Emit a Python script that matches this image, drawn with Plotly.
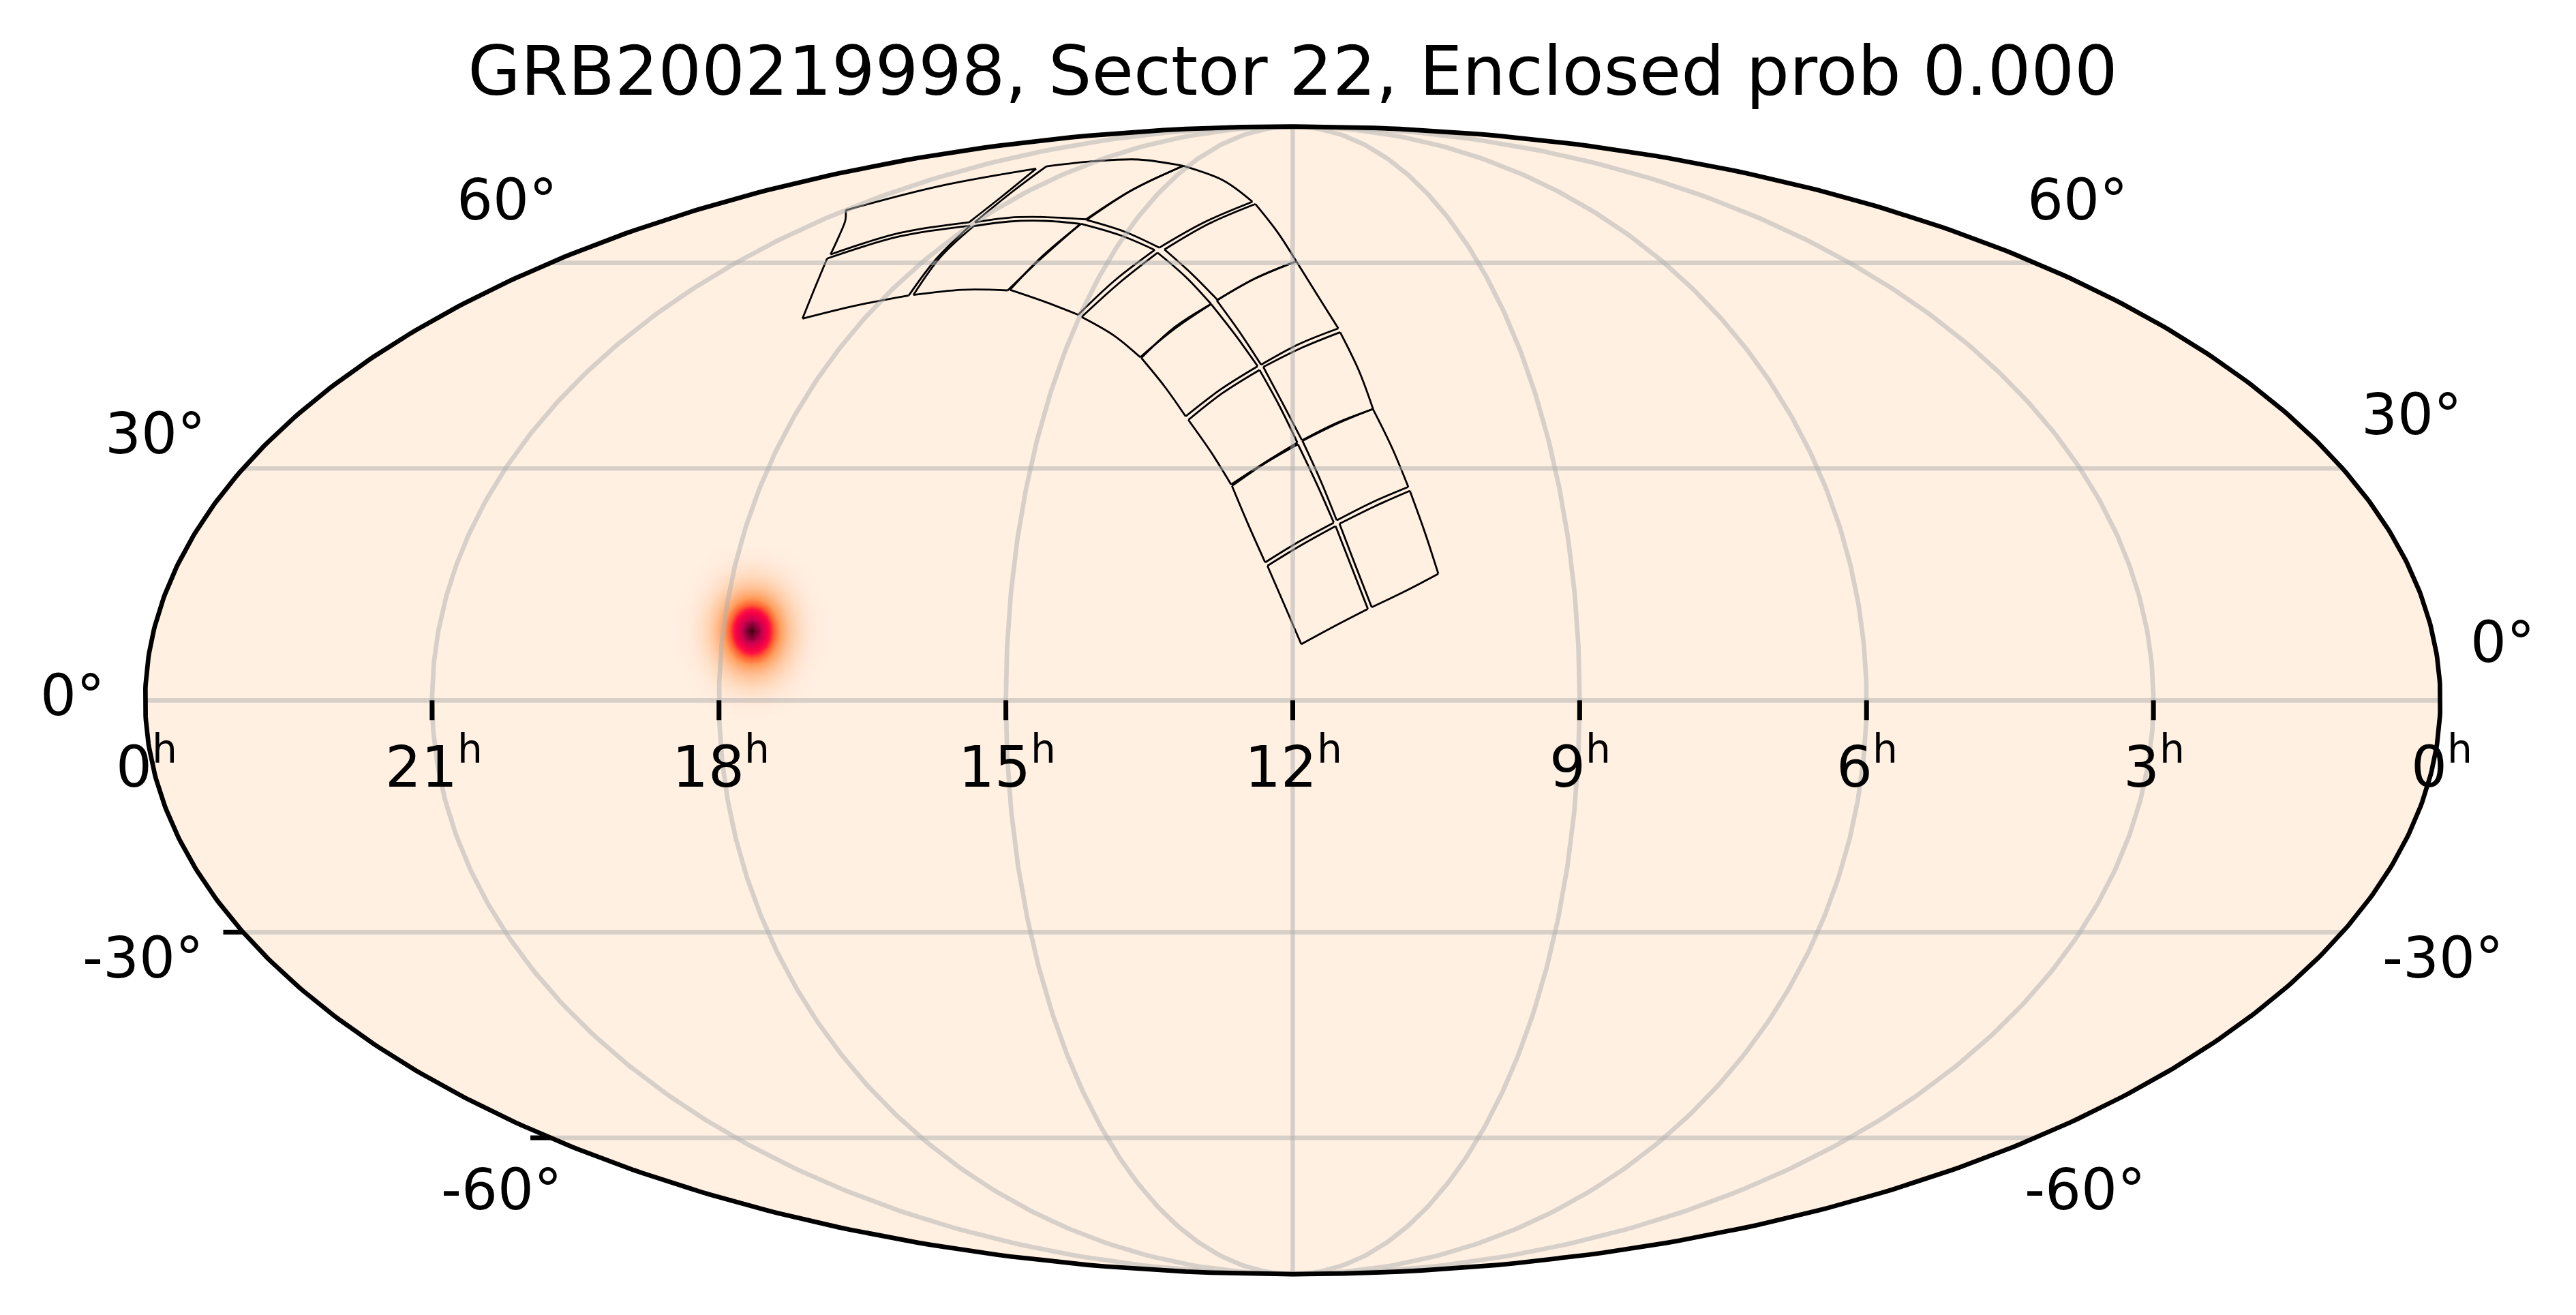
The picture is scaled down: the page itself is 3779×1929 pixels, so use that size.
import numpy as np
import plotly.graph_objects as go

# --- Values ---

title_text = "GRB200219998, Sector 22, Enclosed prob 0.000"

ra_grid_hours = [3, 6, 9, 12, 15, 18, 21]
dec_grid_deg = [-60, -30, 0, 30, 60]
dec_tick_deg = [-30, -60]

ra_labels = ["0", "21", "18", "15", "12", "9", "6", "3", "0"]
dec_labels = ["60°", "30°", "0°", "-30°", "-60°", "60°", "30°", "0°", "-30°", "-60°"]

# CCD outlines of the sector footprint (RA and Dec in degrees, one list per CCD)
ccd_ra = [
    [178.66, 173.34, 168.07, 170.46, 172.95, 178.69, 184.09, 181.36],
    [167.45, 161.94, 156.60, 158.36, 160.27, 166.34, 172.30, 169.90],
    [184.46, 178.94, 173.23, 175.94, 179.10, 184.87, 190.28, 187.39],
    [172.74, 166.69, 160.48, 162.70, 165.42, 171.84, 178.30, 175.28],
    [190.44, 185.07, 179.19, 182.47, 186.38, 193.06, 198.77, 194.21],
    [178.38, 172.03, 165.38, 167.35, 170.31, 178.40, 185.67, 181.85],
    [199.34, 193.54, 186.77, 191.77, 197.71, 204.37, 209.61, 204.04],
    [186.13, 178.84, 170.62, 174.22, 179.14, 188.65, 196.62, 190.91],
    [209.85, 204.49, 197.71, 204.77, 213.87, 219.84, 224.51, 216.48],
    [196.49, 188.65, 179.14, 184.31, 191.67, 203.64, 212.52, 203.68],
    [225.45, 221.00, 214.94, 226.23, 239.59, 242.00, 243.49, 234.55],
    [214.06, 205.09, 192.78, 205.59, 227.14, 235.02, 239.12, 225.65],
    [243.90, 241.82, 239.78, 250.68, 260.78, 268.90, 267.03, 264.06, 254.20],
    [285.57, 271.42, 252.43, 227.14, 235.02, 239.45, 252.70, 262.33, 270.19, 275.20],
    [287.08, 305.02, 314.85, 308.04, 300.57, 295.18, 286.24, 271.79, 275.56],
    [270.04, 284.75, 294.45, 287.69, 283.00, 274.50, 264.99, 267.51],
]
ccd_dec = [
    [7.14, 9.46, 11.64, 16.91, 22.37, 19.85, 17.20, 12.22],
    [11.87, 13.97, 16.17, 21.63, 27.02, 24.97, 22.67, 17.26],
    [17.64, 20.36, 22.82, 27.93, 33.28, 30.67, 27.68, 22.67],
    [23.12, 25.51, 27.54, 32.88, 38.13, 36.17, 33.74, 28.38],
    [27.86, 30.67, 33.50, 38.60, 43.65, 40.35, 36.61, 32.20],
    [33.81, 36.24, 38.13, 43.59, 49.17, 46.81, 44.08, 38.92],
    [37.11, 40.83, 44.18, 48.83, 53.44, 49.92, 45.39, 41.31],
    [44.40, 47.38, 49.74, 54.43, 60.25, 57.48, 54.00, 49.23],
    [45.49, 49.58, 53.44, 57.66, 61.68, 56.57, 51.46, 48.73],
    [54.08, 57.48, 60.25, 65.35, 70.32, 66.68, 62.22, 58.21],
    [51.80, 57.11, 62.14, 64.67, 66.68, 61.19, 55.67, 53.90],
    [62.53, 66.96, 70.75, 74.95, 78.14, 73.10, 67.37, 65.27],
    [55.57, 60.82, 66.68, 67.21, 67.09, 66.27, 61.00, 54.85, 55.67],
    [78.03, 79.17, 79.60, 78.14, 73.10, 67.49, 67.91, 67.79, 66.96, 72.87],
    [77.53, 73.79, 69.17, 67.30, 64.28, 61.39, 65.07, 66.96, 71.97],
    [66.35, 64.47, 60.71, 55.86, 51.22, 53.20, 54.79, 60.63],
]
# which points of each CCD list are its four corners, the others lie along the edges
ccd_corners = [[0, 2, 4, 6]] * 12 + [[0, 2, 5, 7], [0, 3, 5, 8], [0, 2, 5, 7], [0, 2, 4, 6]]

# Probability blob, per mille of its peak: one quadrant, the blob looks symmetric
blob_ra_hours = [18.462, 18.386, 18.310, 18.233, 18.157, 18.081, 18.005, 17.929, 17.852, 17.776, 17.700,
                 17.624, 17.548, 17.471, 17.395, 17.319, 17.243, 17.167, 17.090, 17.014, 16.938]
blob_dec_deg = [-1.35, -0.43, 0.50, 1.42, 2.34, 3.27, 4.19, 5.11, 6.04, 6.96, 7.89, 8.81,
                9.73, 10.66, 11.58, 12.51, 13.43, 14.35, 15.28, 16.20, 17.12, 18.05, 18.97]
blob_quadrant = [
    [1000, 955, 830, 658, 476, 313, 188, 103, 52, 23, 10],
    [968, 924, 803, 637, 461, 303, 182, 100, 50, 23, 9],
    [879, 839, 730, 578, 418, 275, 165, 91, 45, 20, 8],
    [748, 714, 621, 492, 356, 234, 141, 77, 39, 17, 7],
    [597, 570, 496, 393, 284, 187, 112, 61, 31, 14, 6],
    [447, 427, 371, 294, 213, 140, 84, 46, 23, 10, 4],
    [313, 299, 260, 206, 149, 98, 59, 32, 16, 7, 3],
    [206, 197, 171, 136, 98, 64, 39, 21, 11, 5, 2],
    [127, 121, 105, 84, 60, 40, 24, 13, 7, 3, 1],
    [74, 70, 61, 48, 35, 23, 14, 8, 4, 2, 1],
    [40, 38, 33, 26, 19, 12, 7, 4, 2, 1, 0],
    [20, 19, 17, 13, 10, 6, 4, 2, 1, 0, 0],
]

# --- Layout of the page ---

W, H = 3779, 1929
CX, CY = 1896.5, 1027.3  # centre of the ellipse on the page
HW, HH = 1683.5, 841.75  # half axes of the ellipse

BG_COLOR = "#fff0e2"
GRID_COLOR = "rgba(176,176,176,0.5)"
FONT = "DejaVu Sans"

blob_colorscale = [
    [0.0, BG_COLOR],
    [0.011, "#ffefe0"],
    [0.037, "#ffeadb"],
    [0.135, "#ffdcc0"],
    [0.291, "#ffc49a"],
    [0.487, "#ffa060"],
    [0.641, "#ff6030"],
    [0.743, "#ff1040"],
    [0.821, "#f00048"],
    [0.912, "#c80050"],
    [0.974, "#7a0030"],
    [1.0, "#300000"],
]


def mollweide(ra_deg, dec_deg):
    # RA runs to the left, 12h sits in the middle; the plane spans -1..1 on both axes
    ra_deg = np.asarray(ra_deg, dtype=float)
    lat = np.radians(np.asarray(dec_deg, dtype=float))
    theta = lat.copy()
    for _ in range(50):
        denom = 2 + 2 * np.cos(2 * theta)
        denom = np.where(denom < 1e-9, 1e-9, denom)
        theta = theta - (2 * theta + np.sin(2 * theta) - np.pi * np.sin(lat)) / denom
    theta = np.where(np.abs(lat) >= np.pi / 2 - 1e-6, np.sign(lat) * np.pi / 2, theta)
    return (180 - ra_deg) / 180 * np.cos(theta), np.sin(theta)


def page_x(px):
    return (px - CX) / HW


def page_y(py):
    return (CY - py) / HH


fig = go.Figure()

# --- Sky background ---

edge_dec = np.linspace(-90, 90, 361)
left_x, left_y = mollweide(np.full_like(edge_dec, 360.0), edge_dec)
right_x, right_y = mollweide(np.zeros_like(edge_dec), edge_dec[::-1])
edge_x = np.concatenate([left_x, right_x, left_x[:1]])
edge_y = np.concatenate([left_y, right_y, left_y[:1]])

# a heatmap always sits under scatter traces, so the fill goes in as a shape below them
sky_path = "M " + " L ".join(f"{a:.5f} {b:.5f}" for a, b in zip(edge_x, edge_y)) + " Z"
fig.add_shape(type="path", path=sky_path, xref="x", yref="y", layer="below",
              fillcolor=BG_COLOR, line=dict(width=0))

# --- Probability blob ---

quadrant = np.array(blob_quadrant)
half_rows = np.vstack([quadrant[:0:-1], quadrant])
blob_z = np.hstack([half_rows[:, :0:-1], half_rows])
blob_x, _ = mollweide(np.array(blob_ra_hours) * 15, np.full(len(blob_ra_hours), 8.81))
_, blob_y = mollweide(np.full(len(blob_dec_deg), 180.0), blob_dec_deg)

fig.add_trace(
    go.Heatmap(x=blob_x, y=blob_y, z=blob_z, zmin=0, zmax=1000, zsmooth="best",
               colorscale=blob_colorscale, showscale=False, hoverinfo="skip")
)

# --- CCD outlines ---

for ra, dec, corners in zip(ccd_ra, ccd_dec, ccd_corners):
    x, y = mollweide(ra + ra[:1], dec + dec[:1])
    stops = corners + [len(ra)]
    # every edge is its own spline so that the corners stay sharp
    edge_xs, edge_ys = [], []
    for start, stop in zip(stops[:-1], stops[1:]):
        edge_xs += list(x[start:stop + 1]) + [None]
        edge_ys += list(y[start:stop + 1]) + [None]
    fig.add_trace(
        go.Scatter(x=edge_xs, y=edge_ys, mode="lines", line=dict(color="black", width=2.8, shape="spline"),
                   connectgaps=False, hoverinfo="skip")
    )

# --- Graticule ---

for hours in ra_grid_hours:
    x, y = mollweide(np.full_like(edge_dec, hours * 15.0), edge_dec)
    fig.add_trace(go.Scatter(x=x, y=y, mode="lines", line=dict(color=GRID_COLOR, width=6.7), hoverinfo="skip"))

for dec in dec_grid_deg:
    x, y = mollweide([0.0, 360.0], [dec, dec])
    fig.add_trace(go.Scatter(x=x, y=y, mode="lines", line=dict(color=GRID_COLOR, width=6.7), hoverinfo="skip"))

fig.add_trace(
    go.Scatter(x=edge_x, y=edge_y, mode="lines", line=dict(color="black", width=6.7), hoverinfo="skip")
)

# --- Ticks ---

TICK_LEN = 29
for hours in ra_grid_hours:
    x, y = mollweide([hours * 15.0], [0.0])
    fig.add_trace(
        go.Scatter(x=[x[0], x[0]], y=[y[0], y[0] - TICK_LEN / HH], mode="lines",
                   line=dict(color="black", width=7), hoverinfo="skip")
    )

for dec in dec_tick_deg:
    x, y = mollweide([360.0], [dec])
    fig.add_trace(
        go.Scatter(x=[x[0] - TICK_LEN / HW, x[0]], y=[y[0], y[0]], mode="lines",
                   line=dict(color="black", width=7), hoverinfo="skip")
    )

# --- Labels ---

ra_label_px = [215, 636, 1057, 1477, 1897, 2318, 2739, 3160, 3582]
for label, px in zip(ra_labels, ra_label_px):
    fig.add_annotation(
        x=page_x(px), y=page_y(1119), text=f"{label}<sup>h</sup>", showarrow=False,
        xanchor="center", yanchor="middle", font=dict(family=FONT, size=83.3, color="black"),
    )

dec_label_px = [(744, 293), (228, 636), (106, 1020), (210, 1405), (736, 1745),
                (3048, 293), (3538, 608), (3671, 942), (3584, 1405), (3059, 1745)]
for label, (px, py) in zip(dec_labels, dec_label_px):
    fig.add_annotation(
        x=page_x(px), y=page_y(py), text=label, showarrow=False,
        xanchor="center", yanchor="middle", font=dict(family=FONT, size=83.3, color="black"),
    )

fig.update_layout(
    width=W,
    height=H,
    margin=dict(l=0, r=0, t=0, b=0),
    paper_bgcolor="white",
    plot_bgcolor="white",
    showlegend=False,
    title=dict(text=title_text, x=CX / W, y=1 - 104 / H, xanchor="center", yanchor="middle",
               font=dict(family=FONT, size=100, color="black")),
    xaxis=dict(visible=False, range=[page_x(0), page_x(W)], domain=[0, 1], fixedrange=True),
    yaxis=dict(visible=False, range=[page_y(H), page_y(0)], domain=[0, 1], fixedrange=True),
)

fig.write_html("out.html", config={"displayModeBar": False}, post_script="document.body.style.margin='0';")
